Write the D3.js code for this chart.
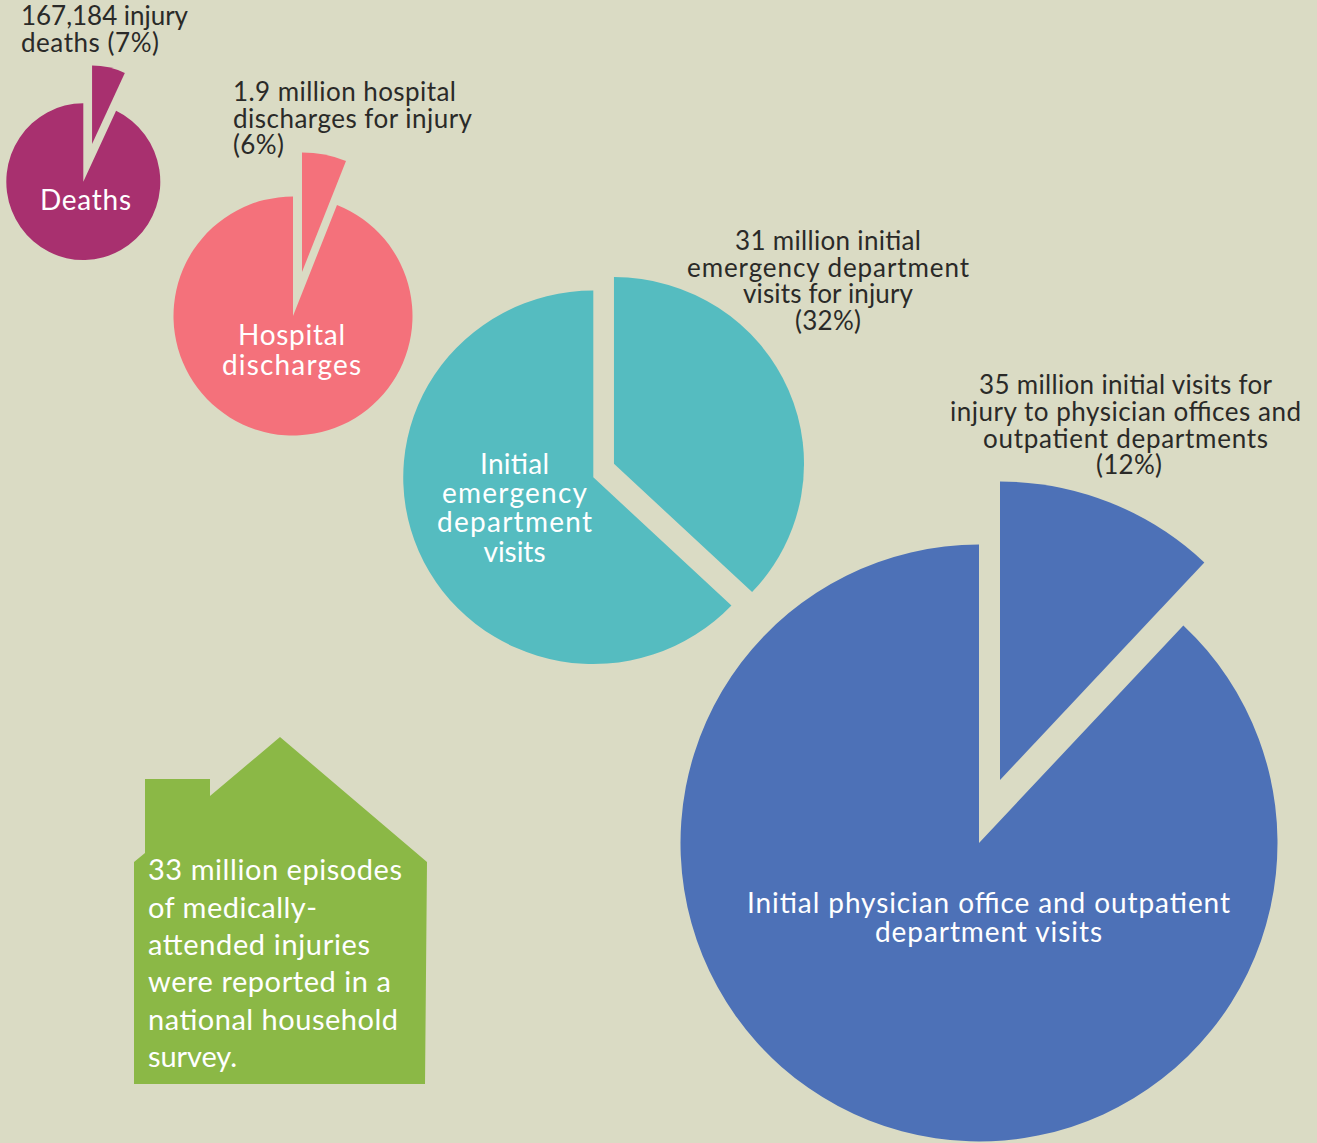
<!DOCTYPE html>
<html><head><meta charset="utf-8">
<script src="https://cdnjs.cloudflare.com/ajax/libs/d3/7.8.5/d3.min.js"></script>
<style>html,body{margin:0;padding:0;background:#dadbc4}svg{display:block}text{font-family:Lato,sans-serif}</style>
</head><body><div id="c"></div>
<script>
const categories=["Deaths","Hospital discharges","Initial emergency department visits","Initial physician office and outpatient department visits"];
const injuryShare=[7,6,37.05,12];
const colors=["#a8306f","#f4717b","#55bcc0","#4d71b7"];
const centerX=[83.3,293,593.3,979], centerY=[181.7,316,477.3,843], radii=[78.4,119.5,186.7,298.5];
const stretchX=[0.982,1,1.018,1];
const offsetX=[8.9,9,20.3,21], offsetY=[-37.7,-44,-13.5,-63];
const innerLabels=[["Deaths"],["Hospital","discharges"],["Initial","emergency","department","visits"],["Initial physician office and outpatient","department visits"]];
const innerX=[85.5,291.5,514.5,988.5], innerY=[[210],[345,375],[474,503,532,562],[913,942]];
const innerWidths=[[91],[107,139],[69,145,155,62],[483,227]];
const calloutLabels=[["167,184 injury","deaths (7%)"],["1.9 million hospital","discharges for injury","(6%)"],["31 million initial","emergency department","visits for injury","(32%)"],["35 million initial visits for","injury to physician offices and","outpatient departments","(12%)"]];
const calloutX=[[21,21],[233,233,233],[828,828,828,828],[1125.5,1125.5,1125.5,1129]];
const calloutY=[[25,52],[101,128,154],[250,277,303,330],[394,421,448,474]];
const calloutWidths=[[167,138],[223,239,51],[186,282,170,66],[293,351,285,66]];
const calloutAnchor=["start","start","middle","middle"];
const houseOutline=[[145,779],[210,779],[210,796],[280,737],[427,862],[425,1084],[134,1084],[134,862],[145,853]];
const houseLines=["33 million episodes","of medically-","attended injuries","were reported in a","national household","survey."];
const houseY=[880,918,955,992,1030,1067];
const houseWidths=[254,169,222,243,250,89];

const svg=d3.select("#c").append("svg").attr("width",1317).attr("height",1143);
svg.append("rect").attr("width",1317).attr("height",1143).attr("fill","#dadbc4");
const pie=d3.pie().sort(null).startAngle(0).endAngle(2*Math.PI);
categories.forEach((c,i)=>{
  const slices=pie([injuryShare[i],100-injuryShare[i]]);
  const arc=d3.arc().innerRadius(0).outerRadius(radii[i]);
  const g=svg.append("g").attr("transform",`translate(${centerX[i]},${centerY[i]}) scale(${stretchX[i]},1)`);
  g.selectAll("path").data(slices).join("path").attr("d",arc).attr("fill",colors[i])
   .attr("transform",(d,k)=>k===0?`translate(${offsetX[i]},${offsetY[i]})`:null);
  svg.append("g").selectAll("text").data(innerLabels[i]).join("text")
    .attr("x",innerX[i]).attr("y",(d,k)=>innerY[i][k]).attr("text-anchor","middle")
    .attr("textLength",(d,k)=>innerWidths[i][k]).attr("lengthAdjust","spacing")
    .attr("fill","#fff").attr("font-size",28).attr("font-weight",400).text(d=>d);
  svg.append("g").selectAll("text").data(calloutLabels[i]).join("text")
    .attr("x",(d,k)=>calloutX[i][k]).attr("y",(d,k)=>calloutY[i][k]).attr("text-anchor",calloutAnchor[i])
    .attr("textLength",(d,k)=>calloutWidths[i][k]).attr("lengthAdjust","spacing")
    .attr("fill","#2a2a28").attr("font-size",26).attr("font-weight",400).text(d=>d);
});
svg.append("path").attr("d",d3.line()(houseOutline)+"Z").attr("fill","#8bb846");
svg.append("g").selectAll("text").data(houseLines).join("text")
  .attr("x",148).attr("y",(d,k)=>houseY[k])
  .attr("textLength",(d,k)=>houseWidths[k]).attr("lengthAdjust","spacing")
  .attr("fill","#fff").attr("font-size",29).attr("font-weight",400).text(d=>d);
</script></body></html>
